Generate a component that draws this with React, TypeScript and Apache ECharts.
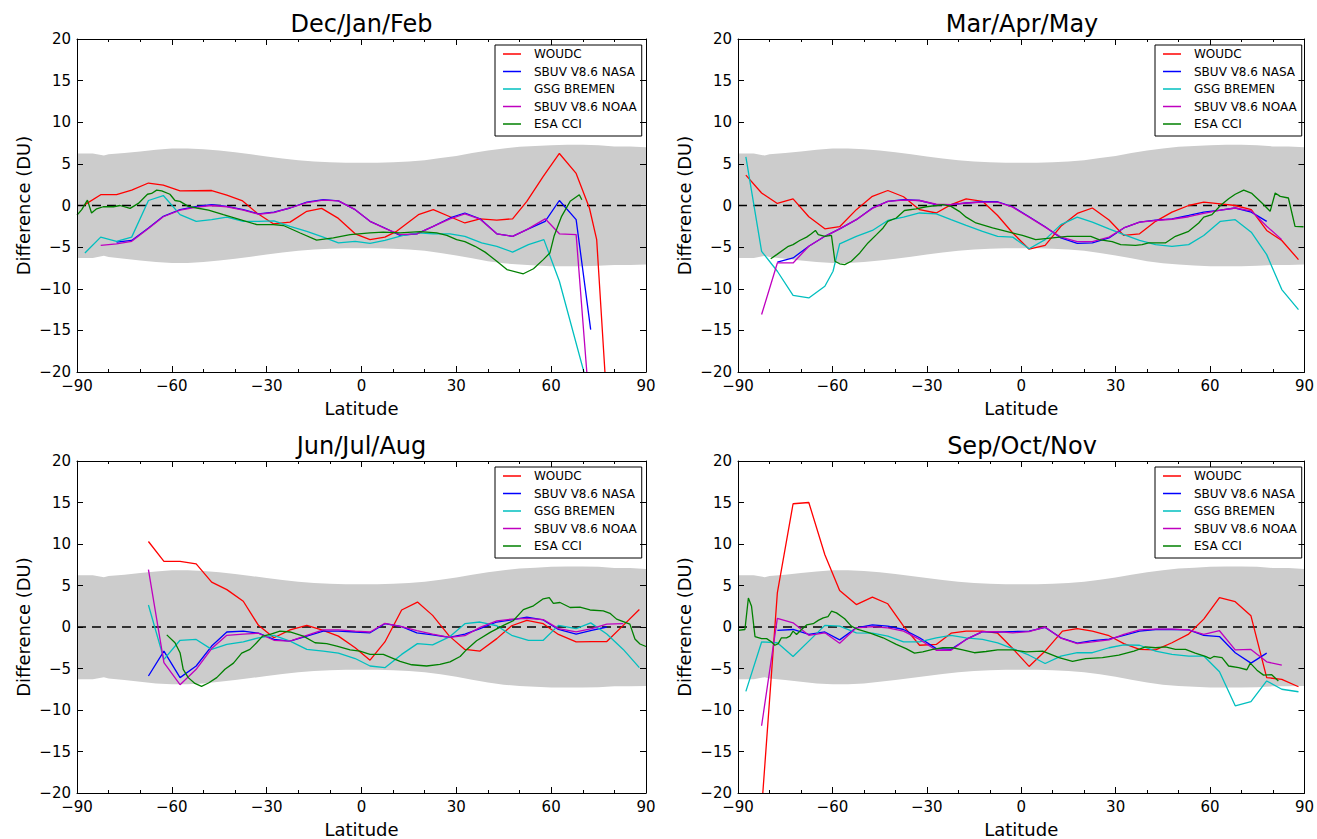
import React, { useEffect, useRef } from 'react';
import * as echarts from 'echarts';

const FONT = 'DejaVu Sans';
const SERIES_NAMES = ['WOUDC', 'SBUV V8.6 NASA', 'GSG BREMEN', 'SBUV V8.6 NOAA', 'ESA CCI'];
const SERIES_COLORS = ['#ff0000', '#0000ff', '#00bfbf', '#bf00bf', '#008000'];
const PANEL_TITLES = ['Dec/Jan/Feb', 'Mar/Apr/May', 'Jun/Jul/Aug', 'Sep/Oct/Nov'];
const X_TICKS = [-90, -60, -30, 0, 30, 60, 90];
const Y_TICKS = [-20, -15, -10, -5, 0, 5, 10, 15, 20];

// grey uncertainty band
const BAND_LAT = [-90, -85, -81.5, -80, -75, -70, -65, -60, -55, -50, -45, -40, -35, -30, -25, -20, -15, -10, -5, 0, 5, 10, 15, 20, 25, 30, 35, 40, 45, 50, 55, 60, 65, 70, 75, 80, 85, 90];
const BAND_UPPER = [6.25, 6.25, 6.0, 6.15, 6.3, 6.5, 6.7, 6.85, 6.85, 6.75, 6.6, 6.4, 6.15, 5.9, 5.65, 5.45, 5.3, 5.2, 5.15, 5.15, 5.15, 5.2, 5.3, 5.45, 5.7, 5.95, 6.3, 6.6, 6.85, 7.05, 7.15, 7.25, 7.3, 7.3, 7.25, 7.1, 7.1, 7.0];
const BAND_LOWER = [-6.3, -6.3, -6.05, -6.2, -6.4, -6.6, -6.8, -6.9, -6.9, -6.8, -6.6, -6.4, -6.15, -5.9, -5.65, -5.45, -5.3, -5.2, -5.15, -5.15, -5.15, -5.2, -5.3, -5.45, -5.7, -6.0, -6.35, -6.7, -6.95, -7.1, -7.2, -7.3, -7.3, -7.3, -7.25, -7.15, -7.15, -7.1];

// Dec/Jan/Feb
const djfWoudc = [[-87.5, 0.1], [-82.5, 1.3], [-77.5, 1.3], [-72.7, 1.85], [-67.4, 2.7], [-62.7, 2.45], [-57.4, 1.75], [-47.4, 1.8], [-42.6, 1.25], [-37.6, 0.55], [-33.1, -0.9], [-27.9, -2.2], [-22.6, -2.0], [-17.3, -0.7], [-12.6, -0.35], [-7.3, -1.55], [-2.0, -3.4], [2.7, -4.1], [7.4, -3.8], [11.1, -3.1], [18.0, -1.1], [22.7, -0.5], [28.0, -1.35], [32.7, -2.1], [37.5, -1.6], [42.8, -1.75], [47.8, -1.6], [52.3, 0.5], [57.5, 3.5], [62.6, 6.25], [67.9, 3.85], [72.1, -0.3], [74.4, -4.1], [77.5, -23]];
const djfNasa = [[-77.5, -4.4], [-72.7, -4.2], [-67.4, -2.7], [-62.7, -1.3], [-57.4, -0.5], [-52.1, -0.1], [-47.4, 0.1], [-42.6, -0.1], [-37.4, -0.5], [-32.6, -1.0], [-27.7, -0.8], [-22.6, -0.3], [-17.3, 0.4], [-12.1, 0.7], [-7.3, 0.55], [-2.0, -0.5], [2.7, -1.9], [7.4, -2.7], [12.2, -3.6], [17.5, -3.4], [22.7, -2.5], [28.0, -1.5], [32.7, -0.9], [37.5, -1.6], [42.8, -3.4], [47.8, -3.7], [52.3, -2.9], [58.1, -1.9], [62.6, 0.6], [67.9, -1.7], [72.5, -14.9]];
const djfGsg = [[-87.5, -5.7], [-82.5, -3.8], [-77.5, -4.3], [-72.7, -3.8], [-67.4, 0.6], [-62.7, 1.2], [-57.4, -1.1], [-52.3, -1.9], [-47.4, -1.7], [-42.6, -1.4], [-37.4, -1.9], [-32.6, -1.9], [-27.7, -1.85], [-22.6, -2.5], [-17.3, -3.1], [-12.1, -3.8], [-7.3, -4.5], [-2.0, -4.3], [2.7, -4.55], [7.4, -4.2], [13.2, -3.6], [18.0, -3.3], [22.7, -3.4], [28.0, -3.4], [32.7, -3.7], [38.0, -4.5], [42.8, -4.9], [47.8, -5.6], [52.8, -4.7], [57.7, -4.1], [62.6, -9.1], [72.5, -23]];
const djfNoaa = [[-82.5, -4.8], [-77.5, -4.6], [-72.7, -4.3], [-67.4, -2.75], [-62.7, -1.35], [-57.4, -0.55], [-52.1, -0.2], [-47.4, 0.0], [-42.6, -0.15], [-37.4, -0.55], [-32.6, -1.05], [-27.7, -0.85], [-22.6, -0.3], [-17.3, 0.35], [-12.1, 0.65], [-7.3, 0.55], [-2.0, -0.5], [2.7, -1.9], [7.4, -2.75], [12.2, -3.5], [17.5, -3.4], [22.7, -2.5], [28.0, -1.6], [32.7, -1.0], [37.5, -1.65], [42.8, -3.4], [47.8, -3.7], [52.3, -2.9], [58.1, -1.6], [62.6, -3.4], [67.9, -3.5], [72.5, -26]];
const djfEsa = [[-90, -1.15], [-88.5, -0.5], [-86.7, 0.65], [-85.4, -0.9], [-83.8, -0.4], [-81.7, -0.15], [-78.5, -0.15], [-76.4, 0], [-73.2, -0.35], [-70.6, 0.25], [-67.7, 1.35], [-66.4, 1.45], [-64.8, 1.85], [-63.2, 1.75], [-60.6, 1.35], [-59.0, 0.6], [-57.4, 0.5], [-54.8, -0.1], [-52.1, -0.3], [-48.4, -0.55], [-43.7, -1.1], [-38.4, -1.7], [-33.1, -2.3], [-27.9, -2.3], [-24.7, -2.4], [-19.4, -3.3], [-14.2, -4.15], [-8.9, -3.9], [-3.6, -3.5], [2.7, -3.3], [6.9, -3.2], [12.2, -3.3], [18.5, -3.15], [23.8, -3.3], [27.0, -3.6], [30.1, -4.1], [32.7, -4.35], [35.9, -4.9], [39.1, -5.6], [42.8, -6.7], [46.0, -7.7], [51.2, -8.2], [54.4, -7.6], [57.5, -6.5], [59.6, -5.7], [60.9, -3.7], [63.3, -1.3], [66.0, 0.5], [68.9, 1.3], [69.7, 0.7]];

// Mar/Apr/May
const mamWoudc = [[-87.5, 3.65], [-82.5, 1.5], [-77.5, 0.25], [-72.5, 0.8], [-67.5, -1.35], [-62.4, -2.8], [-57.7, -2.55], [-52.4, -0.5], [-47.3, 1.1], [-42.4, 1.8], [-37.4, 1.05], [-32.3, -0.5], [-27.0, -0.9], [-22.3, 0.1], [-17.5, 0.8], [-12.3, 0.5], [-7.5, -1.2], [-2.7, -3.3], [2.5, -5.25], [7.6, -4.8], [12.6, -2.5], [17.8, -0.95], [22.6, -0.3], [27.9, -1.75], [32.6, -3.6], [37.6, -3.4], [42.7, -1.9], [47.9, -0.8], [53.2, 0], [58.0, 0.4], [63.3, 0.2], [68.0, 0], [73.1, -0.5], [78.0, -3.0], [82.8, -4.2], [88.1, -6.5]];
const mamNasa = [[-77.5, -6.8], [-72.5, -6.3], [-67.5, -4.9], [-62.4, -3.7], [-57.7, -2.8], [-52.4, -1.7], [-47.3, -0.3], [-42.4, 0.5], [-37.4, 0.7], [-32.3, 0.6], [-27.0, 0.1], [-22.3, 0.1], [-17.5, 0.3], [-12.3, 0.45], [-7.5, 0.45], [-2.7, -0.15], [2.5, -1.35], [7.6, -2.55], [12.6, -3.9], [17.8, -4.55], [22.6, -4.5], [27.9, -3.9], [32.6, -2.7], [37.6, -2.0], [42.7, -1.75], [47.9, -1.6], [53.2, -1.2], [58.0, -0.8], [63.3, -0.55], [68.0, -0.3], [73.1, -0.8], [78.0, -1.9]];
const mamGsg = [[-87.5, 5.85], [-82.5, -5.5], [-77.5, -7.9], [-72.5, -10.8], [-67.5, -11.1], [-62.4, -9.7], [-59.8, -7.9], [-57.7, -4.6], [-52.4, -3.7], [-47.3, -3.0], [-42.4, -1.8], [-37.4, -1.4], [-32.3, -0.9], [-27.0, -1.0], [-22.3, -1.7], [-17.5, -2.4], [-12.3, -3.1], [-7.5, -3.7], [-2.7, -3.8], [2.5, -5.2], [7.6, -4.1], [12.6, -2.3], [17.8, -1.4], [22.6, -2.0], [27.9, -2.8], [32.6, -3.5], [37.6, -4.2], [42.7, -4.7], [47.9, -4.9], [53.2, -4.7], [58.0, -3.6], [63.3, -1.9], [68.0, -1.7], [73.1, -3.2], [78.0, -5.9], [82.8, -10.1], [88.1, -12.5]];
const mamNoaa = [[-82.5, -13.1], [-77.5, -6.9], [-72.5, -6.9], [-67.5, -4.9], [-62.4, -3.7], [-57.7, -2.8], [-52.4, -1.7], [-47.3, -0.35], [-42.4, 0.5], [-37.4, 0.65], [-32.3, 0.6], [-27.0, 0.15], [-22.3, 0.1], [-17.5, 0.3], [-12.3, 0.4], [-7.5, 0.4], [-2.7, -0.2], [2.5, -1.4], [7.6, -2.6], [12.6, -3.8], [17.8, -4.35], [22.6, -4.35], [27.9, -3.8], [32.6, -2.7], [37.6, -2.0], [42.7, -1.8], [47.9, -1.65], [53.2, -1.35], [58.0, -0.95], [63.3, -0.55], [68.0, -0.3], [73.1, -0.65], [78.0, -2.5], [82.8, -4.1]];
const mamEsa = [[-79.6, -6.4], [-77.7, -5.9], [-74.0, -4.9], [-72.5, -4.7], [-70.4, -4.2], [-68.2, -3.8], [-66.7, -3.4], [-65.4, -3.0], [-64.5, -3.5], [-62.4, -3.7], [-60.3, -3.6], [-59.2, -6.7], [-57.7, -7.0], [-56.1, -7.1], [-54.0, -6.7], [-51.3, -5.7], [-48.7, -4.5], [-46.0, -3.5], [-43.9, -2.7], [-42.4, -1.9], [-39.7, -1.5], [-37.1, -0.6], [-33.4, -0.4], [-30.2, -0.15], [-27.0, 0], [-24.9, 0.1], [-22.3, -0.1], [-19.7, -0.7], [-17.5, -1.4], [-14.4, -2.1], [-9.1, -2.7], [-3.8, -3.2], [0.4, -3.6], [4.6, -4.1], [9.9, -3.9], [14.7, -3.7], [22.1, -3.7], [24.7, -4.1], [28.9, -4.35], [31.6, -4.7], [36.3, -4.8], [38.4, -4.7], [40.5, -4.5], [45.8, -4.5], [49.0, -3.7], [53.2, -3.1], [56.4, -2.1], [58.0, -1.4], [60.6, -1.1], [63.3, 0], [65.9, 0.8], [68.0, 1.35], [70.7, 1.85], [73.3, 1.45], [76.5, 0.3], [79.1, -0.7], [80.7, 1.5], [82.3, 1.1], [84.9, 0.9], [87.0, -2.5], [89.7, -2.55]];

// Jun/Jul/Aug
const jjaWoudc = [[-67.4, 10.3], [-62.5, 7.9], [-57.4, 7.9], [-52.3, 7.6], [-47.4, 5.4], [-42.6, 4.5], [-37.4, 3.1], [-32.6, 0.2], [-27.7, -1.3], [-22.6, -0.35], [-17.3, 0.2], [-12.6, -0.35], [-7.3, -1.1], [-2.0, -2.5], [2.7, -4.0], [7.4, -1.8], [12.7, 2.05], [17.7, 3.0], [22.5, 1.4], [27.8, -1.1], [32.7, -2.7], [37.5, -2.9], [42.8, -1.4], [47.5, 0.15], [52.3, 0.8], [57.5, 0.4], [62.3, -0.9], [67.9, -1.8], [72.8, -1.75], [77.6, -1.75], [82.8, 0.2], [87.9, 2.1]];
const jjaNasa = [[-67.4, -5.9], [-62.5, -2.9], [-57.4, -6.1], [-52.3, -4.7], [-47.4, -2.3], [-42.6, -0.6], [-37.4, -0.5], [-32.6, -0.75], [-27.7, -1.5], [-22.6, -1.7], [-17.3, -1.1], [-12.1, -0.5], [-7.3, -0.5], [-2.0, -0.6], [2.7, -0.7], [7.4, 0.4], [12.7, 0.05], [17.5, -0.7], [22.5, -0.95], [27.8, -1.25], [32.7, -0.85], [37.5, -0.2], [42.8, 0.6], [47.5, 0.85], [52.3, 1.2], [57.5, 0.85], [62.3, -0.3], [67.9, -0.85], [72.8, -0.4], [77.6, 0]];
const jjaGsg = [[-67.4, 2.65], [-62.5, -3.9], [-57.4, -1.6], [-52.3, -1.5], [-47.4, -2.7], [-42.6, -2.1], [-37.4, -1.8], [-32.6, -1.3], [-27.7, -1.0], [-22.6, -1.7], [-17.3, -2.7], [-12.1, -2.9], [-7.3, -3.15], [-2.0, -3.8], [2.7, -4.7], [7.4, -4.9], [12.7, -3.3], [17.7, -2.0], [22.5, -2.15], [27.8, -1.2], [32.7, 0.4], [37.5, 0.6], [42.8, 0.15], [47.5, -1.0], [52.8, -1.6], [57.5, -1.6], [62.3, 0.2], [67.9, -0.2], [72.5, 0.5], [77.6, -0.85], [82.8, -2.7], [87.9, -4.9]];
const jjaNoaa = [[-67.4, 6.9], [-62.5, -4.3], [-57.4, -6.95], [-52.3, -5.1], [-47.4, -2.6], [-42.6, -1.0], [-37.4, -0.85], [-32.6, -0.75], [-27.7, -1.6], [-22.6, -1.7], [-17.3, -1.0], [-12.1, -0.35], [-7.3, -0.35], [-2.0, -0.5], [2.7, -0.6], [7.4, 0.45], [12.7, 0.05], [17.5, -0.45], [22.5, -0.85], [27.8, -1.25], [32.7, -1.05], [37.5, -0.05], [42.8, 0.75], [47.5, 0.95], [52.3, 1.05], [57.5, 0.9], [62.3, -0.2], [67.9, -0.6], [72.8, -0.2], [77.6, 0.35], [82.8, 0.4]];
const jjaEsa = [[-61.6, -0.95], [-59.0, -1.9], [-57.4, -3.1], [-56.4, -5.1], [-54.8, -6.1], [-52.7, -6.8], [-50.6, -7.15], [-48.4, -6.75], [-45.8, -6.1], [-43.2, -5.1], [-40.5, -4.35], [-37.9, -3.15], [-35.3, -2.7], [-33.2, -1.9], [-31.3, -1.1], [-28.9, -0.9], [-25.8, -0.5], [-22.6, -0.6], [-18.4, -1.1], [-14.7, -1.9], [-11.0, -2.0], [-7.8, -2.3], [-3.6, -2.75], [-0.5, -2.9], [2.7, -3.3], [6.9, -3.3], [12.2, -4.15], [15.9, -4.55], [20.6, -4.7], [24.8, -4.5], [28.0, -4.2], [31.2, -3.55], [33.3, -2.7], [36.4, -1.65], [40.7, -0.65], [44.9, 0.2], [48.0, 0.75], [51.2, 2.1], [54.4, 2.55], [57.5, 3.4], [59.4, 3.55], [60.7, 2.85], [62.8, 2.95], [66.0, 2.35], [69.1, 2.4], [72.3, 2.05], [76.5, 1.95], [78.6, 1.65], [80.7, 0.95], [82.8, 0.65], [84.9, 0.35], [86.5, -1.45], [88.1, -2.05], [90, -2.35]];

// Sep/Oct/Nov
const sonWoudc = [[-82.5, -22], [-77.5, 4.1], [-72.5, 14.85], [-67.5, 15.0], [-62.4, 8.7], [-57.7, 4.4], [-52.4, 2.7], [-47.3, 3.6], [-42.4, 2.8], [-37.4, 0.1], [-32.3, -2.2], [-27.0, -2.1], [-22.3, -0.75], [-17.5, -0.5], [-12.3, -0.5], [-7.5, -0.75], [-2.7, -2.6], [2.5, -4.75], [7.6, -2.9], [13.1, -0.5], [17.8, -0.2], [22.6, -0.5], [27.9, -1.05], [32.6, -2.0], [37.6, -2.7], [42.7, -2.75], [47.9, -1.9], [53.2, -0.85], [58.0, 0.95], [63.0, 3.55], [68.0, 3.05], [73.0, 1.35], [78.0, -6.1], [82.8, -6.3], [88.1, -7.2]];
const sonNasa = [[-77.5, -0.4], [-72.5, -0.3], [-67.5, -0.9], [-62.4, -0.6], [-57.7, -1.55], [-52.4, -0.1], [-47.3, 0.25], [-42.4, 0.1], [-37.4, -0.3], [-32.3, -1.3], [-27.0, -2.6], [-22.3, -2.7], [-17.5, -1.5], [-12.3, -0.55], [-7.5, -0.6], [-2.7, -0.55], [2.5, -0.5], [7.6, -0.05], [12.6, -1.3], [17.8, -1.95], [22.6, -1.65], [27.9, -1.45], [32.6, -1.0], [37.6, -0.5], [42.7, -0.3], [47.9, -0.3], [53.2, -0.35], [58.0, -1.0], [63.0, -1.15], [68.0, -3.1], [73.0, -4.35], [78.0, -3.15]];
const sonGsg = [[-87.5, -7.75], [-82.5, -1.8], [-77.5, -1.9], [-72.5, -3.55], [-67.5, -1.7], [-62.4, 0.2], [-57.7, 0.1], [-52.4, -0.7], [-47.3, -0.75], [-42.4, -1.1], [-37.4, -1.8], [-32.3, -1.8], [-27.0, -1.3], [-22.3, -1.0], [-17.5, -1.3], [-12.3, -1.5], [-7.5, -1.9], [-2.7, -2.6], [2.5, -3.4], [7.6, -4.4], [12.6, -3.5], [17.8, -3.1], [22.6, -3.1], [27.9, -2.5], [32.6, -2.15], [37.6, -2.2], [42.7, -2.9], [47.9, -3.3], [53.2, -3.5], [58.0, -3.5], [63.0, -5.4], [68.0, -9.5], [73.0, -9.0], [78.0, -6.5], [82.8, -7.5], [88.1, -7.8]];
const sonNoaa = [[-82.5, -11.9], [-77.5, 1.05], [-72.5, 0.5], [-67.5, -1.0], [-62.4, -0.7], [-57.7, -1.95], [-52.4, -0.1], [-47.3, 0.05], [-42.4, -0.1], [-37.4, -0.5], [-32.3, -1.5], [-27.0, -2.8], [-22.3, -2.8], [-17.5, -1.5], [-12.3, -0.55], [-7.5, -0.55], [-2.7, -0.7], [2.5, -0.55], [7.6, 0.0], [12.6, -1.35], [17.8, -2.0], [22.6, -1.8], [27.9, -1.55], [32.6, -0.9], [37.6, -0.35], [42.7, -0.25], [47.9, -0.25], [53.2, -0.35], [58.0, -0.9], [63.0, -0.45], [68.0, -2.75], [73.0, -2.7], [78.0, -4.2], [82.8, -4.6]];
const sonEsa = [[-90, -0.4], [-87.8, -0.3], [-86.7, 3.5], [-85.7, 2.5], [-84.6, -1.15], [-82.5, -1.4], [-80.9, -1.4], [-79.3, -1.8], [-78.3, -2.2], [-77.2, -2.0], [-76.2, -1.3], [-74.6, -1.3], [-73.5, -1.1], [-72.5, -0.5], [-71.4, -0.9], [-69.8, -0.3], [-68.2, 0.25], [-66.1, 0.4], [-64.5, 0.8], [-62.9, 1.1], [-61.4, 1.25], [-60.3, 1.9], [-58.7, 1.7], [-56.1, 1.0], [-54.0, 0.1], [-51.9, -0.3], [-48.2, -0.7], [-43.9, -1.3], [-39.7, -2.1], [-36.6, -2.6], [-33.9, -3.15], [-31.3, -3.0], [-28.1, -2.7], [-24.9, -2.5], [-21.8, -2.5], [-18.6, -2.75], [-14.9, -3.1], [-11.2, -2.95], [-7.5, -2.75], [-2.7, -2.75], [1.5, -3.0], [6.8, -2.9], [12.0, -3.7], [16.3, -4.15], [20.5, -3.8], [25.8, -3.7], [31.0, -3.4], [35.8, -2.9], [39.5, -2.4], [42.7, -2.5], [45.8, -2.4], [49.0, -2.7], [52.2, -2.7], [55.3, -3.15], [58.5, -3.55], [60.1, -3.8], [61.2, -3.55], [63.8, -3.7], [65.9, -4.7], [69.1, -4.9], [71.7, -5.15], [72.8, -4.35], [74.9, -5.2], [77.0, -5.8], [79.6, -5.75], [81.7, -6.5]];

const PANEL_DATA = [
  [djfWoudc, djfNasa, djfGsg, djfNoaa, djfEsa],
  [mamWoudc, mamNasa, mamGsg, mamNoaa, mamEsa],
  [jjaWoudc, jjaNasa, jjaGsg, jjaNoaa, jjaEsa],
  [sonWoudc, sonNasa, sonGsg, sonNoaa, sonEsa],
];

const GRIDS = [
  { left: 77, top: 39, width: 569, height: 333 },
  { left: 738, top: 39, width: 568, height: 333 },
  { left: 77, top: 461, width: 569, height: 333 },
  { left: 738, top: 461, width: 568, height: 333 },
];

const fmt = (v: number) => (v < 0 ? '\u2212' + Math.abs(v) : String(v));

function buildOption() {
  const xAxis: any[] = [];
  const yAxis: any[] = [];
  const series: any[] = [];
  const legend: any[] = [];
  const graphic: any[] = [];
  const lineCol = '#000';

  GRIDS.forEach((g, i) => {
    const common = {
      gridIndex: i,
      type: 'value',
      z: 10,
      splitLine: { show: false },
      axisLine: { show: true, onZero: false, lineStyle: { color: lineCol, width: 1 } },
      axisTick: { show: true, inside: true, length: 6, lineStyle: { color: lineCol, width: 1 } },
    };
    xAxis.push({
      ...common,
      position: 'bottom',
      min: X_TICKS[0],
      max: X_TICKS[X_TICKS.length - 1],
      interval: 30,
      minorTick: { show: true, splitNumber: 3, length: 3, lineStyle: { color: lineCol, width: 1 } },
      axisLabel: { show: true, margin: 6, formatter: fmt, fontFamily: FONT, fontSize: 15, color: '#000' },
      name: 'Latitude',
      nameLocation: 'middle',
      nameGap: 27,
      nameTextStyle: { fontFamily: FONT, fontSize: 18, color: '#000' },
    });
    xAxis.push({
      ...common,
      position: 'top',
      min: X_TICKS[0],
      max: X_TICKS[X_TICKS.length - 1],
      interval: 30,
      minorTick: { show: true, splitNumber: 3, length: 3, lineStyle: { color: lineCol, width: 1 } },
      axisLabel: { show: false },
    });
    yAxis.push({
      ...common,
      position: 'left',
      min: Y_TICKS[0],
      max: Y_TICKS[Y_TICKS.length - 1],
      interval: 5,
      axisLabel: { show: true, margin: 6, formatter: fmt, fontFamily: FONT, fontSize: 15, color: '#000' },
      name: 'Difference (DU)',
      nameLocation: 'middle',
      nameGap: 45,
      nameTextStyle: { fontFamily: FONT, fontSize: 18, color: '#000' },
    });
    yAxis.push({
      ...common,
      position: 'right',
      min: Y_TICKS[0],
      max: Y_TICKS[Y_TICKS.length - 1],
      interval: 5,
      axisLabel: { show: false },
    });

    const xi = 2 * i;
    series.push({
      type: 'custom',
      xAxisIndex: xi,
      yAxisIndex: xi,
      silent: true,
      z: 1,
      data: [[0, 0]],
      renderItem: (_p: any, api: any) => {
        const pts: number[][] = [];
        for (let k = 0; k < BAND_LAT.length; k++) pts.push(api.coord([BAND_LAT[k], BAND_UPPER[k]]));
        for (let k = BAND_LAT.length - 1; k >= 0; k--) pts.push(api.coord([BAND_LAT[k], BAND_LOWER[k]]));
        return { type: 'polygon', shape: { points: pts }, style: { fill: '#cccccc', stroke: null } };
      },
    });
    series.push({
      type: 'line',
      xAxisIndex: xi,
      yAxisIndex: xi,
      silent: true,
      z: 2,
      symbol: 'none',
      data: [[X_TICKS[0], 0], [X_TICKS[X_TICKS.length - 1], 0]],
      lineStyle: { color: '#000', width: 1.5, type: [9, 6] },
    });
    PANEL_DATA[i].forEach((d, s) => {
      series.push({
        type: 'line',
        name: SERIES_NAMES[s],
        xAxisIndex: xi,
        yAxisIndex: xi,
        data: d,
        symbol: 'none',
        showSymbol: false,
        clip: true,
        z: 3 + s,
        color: SERIES_COLORS[s],
        itemStyle: { color: SERIES_COLORS[s] },
        lineStyle: { color: SERIES_COLORS[s], width: 1.3 },
      });
    });

    legend.push({
      left: g.left + g.width - 151,
      top: g.top + 6,
      orient: 'vertical',
      data: SERIES_NAMES,
      icon: 'rect',
      itemWidth: 18,
      itemHeight: 1.5,
      itemGap: 3.5,
      padding: [2, 5, 5, 8],
      borderColor: '#000',
      borderWidth: 1,
      backgroundColor: '#fff',
      selectedMode: false,
      textStyle: { fontFamily: FONT, fontSize: 12, color: '#000', lineHeight: 14, padding: [0, 0, 0, 8] },
    });

    graphic.push({
      type: 'text',
      x: g.left + g.width / 2,
      y: g.top - 15,
      style: {
        text: PANEL_TITLES[i],
        font: `24px "${FONT}"`,
        fill: '#000',
        align: 'center',
        verticalAlign: 'middle',
      },
    });
  });

  return {
    animation: false,
    backgroundColor: '#fff',
    grid: GRIDS.map((g) => ({ ...g, containLabel: false })),
    xAxis,
    yAxis,
    legend,
    graphic,
    series,
  };
}

export default function App() {
  const ref = useRef<HTMLDivElement>(null);
  useEffect(() => {
    if (!ref.current) return;
    const chart = echarts.init(ref.current, undefined, { renderer: 'svg' });
    chart.setOption(buildOption() as any);
    return () => chart.dispose();
  }, []);
  return (
    <div
      ref={ref}
      style={{ position: 'fixed', left: 0, top: 0, width: 1317, height: 839, background: '#fff' }}
    />
  );
}
